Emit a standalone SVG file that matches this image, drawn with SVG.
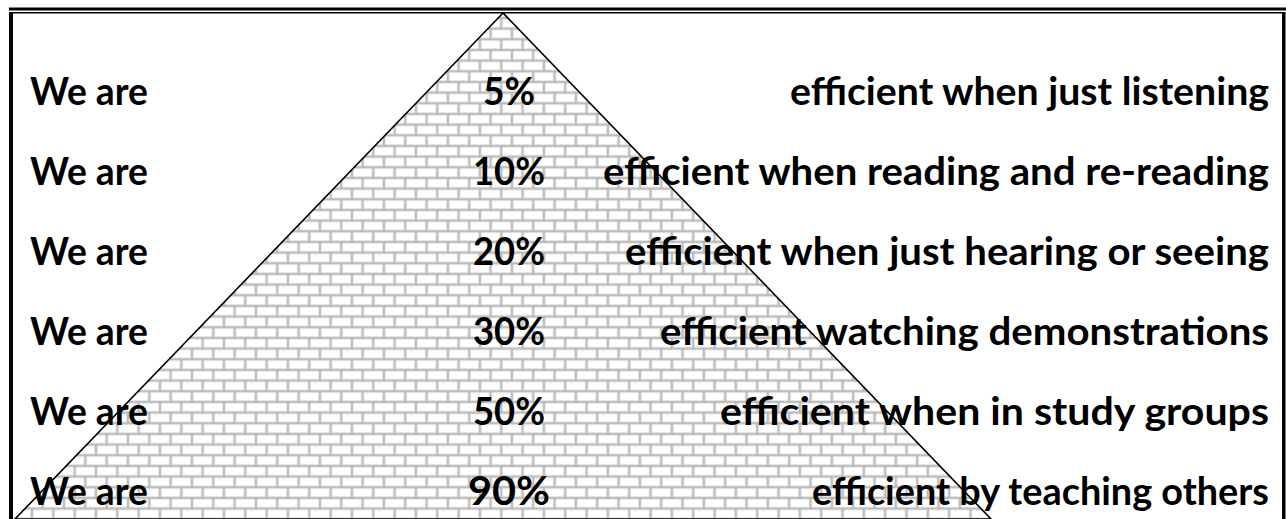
<svg xmlns="http://www.w3.org/2000/svg" width="1286" height="519" viewBox="0 0 1286 519">
  <defs>
    <pattern id="brick" patternUnits="userSpaceOnUse" x="0" y="7.3" width="21.33" height="21.33">
      <rect width="21.33" height="21.33" fill="#ffffff"/>
      <g stroke="#d6d6d6" stroke-width="3" fill="none">
        <line x1="0" y1="0" x2="21.33" y2="0"/>
        <line x1="0" y1="10.67" x2="21.33" y2="10.67"/>
        <line x1="0" y1="21.33" x2="21.33" y2="21.33"/>
        <line x1="0" y1="0" x2="0" y2="10.67"/>
        <line x1="21.33" y1="0" x2="21.33" y2="10.67"/>
        <line x1="10.67" y1="10.67" x2="10.67" y2="21.33"/>
      </g>
      <g stroke="#acacac" stroke-width="1.1" fill="none">
        <line x1="0" y1="0" x2="21.33" y2="0"/>
        <line x1="0" y1="10.67" x2="21.33" y2="10.67"/>
        <line x1="0" y1="21.33" x2="21.33" y2="21.33"/>
        <line x1="0" y1="0" x2="0" y2="10.67"/>
        <line x1="21.33" y1="0" x2="21.33" y2="10.67"/>
        <line x1="10.67" y1="10.67" x2="10.67" y2="21.33"/>
      </g>
    </pattern>
  </defs>
  <style>
    .t { font-family: Lato, "Open Sans", "Liberation Sans", sans-serif; font-weight: bold; font-size: 37.5px; fill: #000; }
    .big { font-size: 40px; }
    .frame { fill: #000; }
  </style>
  <rect width="1286" height="519" fill="#ffffff"/>
  <g id="frame">
    <rect class="frame" x="9" y="7.5" width="1277" height="3"/>
    <rect class="frame" x="12" y="12" width="1271" height="1.5"/>
    <rect class="frame" x="9" y="12" width="4" height="507"/>
    <rect class="frame" x="1282" y="12" width="3.5" height="507"/>
  </g>
  <g id="pyramid">
    <polygon points="503,13 15,519 991,519" fill="url(#brick)" stroke="#000" stroke-width="1.6" stroke-linejoin="miter"/>
  </g>
  <g id="row1">
    <text class="t" x="30" y="105" textLength="118" lengthAdjust="spacingAndGlyphs">We are</text>
    <text class="t" x="483" y="105" textLength="52" lengthAdjust="spacingAndGlyphs">5%</text>
    <text class="t" x="790" y="105" textLength="479" lengthAdjust="spacingAndGlyphs">efficient when just listening</text>
  </g>
  <g id="row2">
    <text class="t" x="30" y="185" textLength="118" lengthAdjust="spacingAndGlyphs">We are</text>
    <text class="t" x="473" y="185" textLength="72" lengthAdjust="spacingAndGlyphs">10%</text>
    <text class="t" x="603" y="185" textLength="666" lengthAdjust="spacingAndGlyphs">efficient when reading and re-reading</text>
  </g>
  <g id="row3">
    <text class="t" x="30" y="265" textLength="118" lengthAdjust="spacingAndGlyphs">We are</text>
    <text class="t" x="473" y="265" textLength="72" lengthAdjust="spacingAndGlyphs">20%</text>
    <text class="t" x="625" y="265" textLength="644" lengthAdjust="spacingAndGlyphs">efficient when just hearing or seeing</text>
  </g>
  <g id="row4">
    <text class="t" x="30" y="345" textLength="118" lengthAdjust="spacingAndGlyphs">We are</text>
    <text class="t" x="473" y="345" textLength="72" lengthAdjust="spacingAndGlyphs">30%</text>
    <text class="t" x="660" y="345" textLength="609" lengthAdjust="spacingAndGlyphs">efficient watching demonstrations</text>
  </g>
  <g id="row5">
    <text class="t" x="30" y="425" textLength="118" lengthAdjust="spacingAndGlyphs">We are</text>
    <text class="t" x="473" y="425" textLength="72" lengthAdjust="spacingAndGlyphs">50%</text>
    <text class="t" x="720" y="425" textLength="549" lengthAdjust="spacingAndGlyphs">efficient when in study groups</text>
  </g>
  <g id="row6">
    <text class="t" x="30" y="505" textLength="118" lengthAdjust="spacingAndGlyphs">We are</text>
    <text class="t big" x="468" y="505" textLength="82" lengthAdjust="spacingAndGlyphs">90%</text>
    <text class="t" x="812" y="505" textLength="457" lengthAdjust="spacingAndGlyphs">efficient by teaching others</text>
  </g>
</svg>
